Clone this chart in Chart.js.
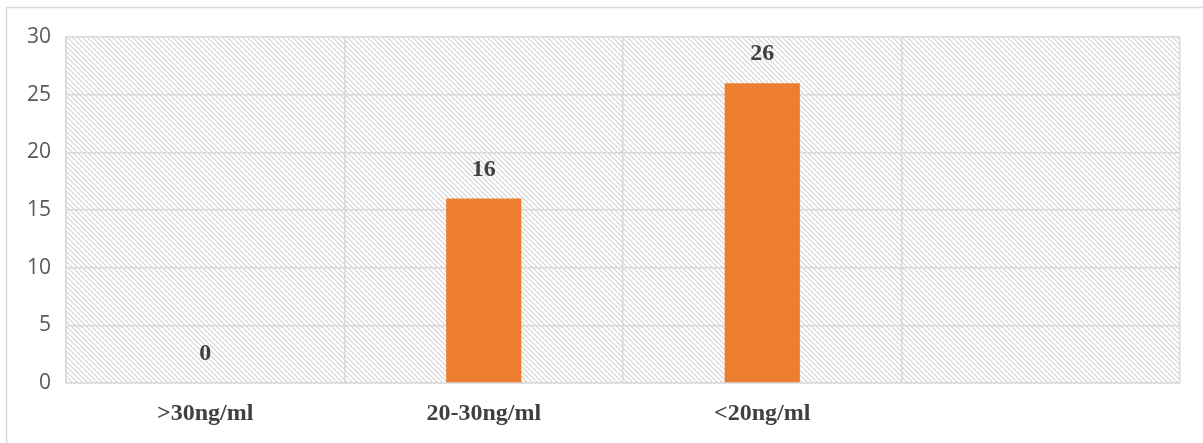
<!DOCTYPE html>
<html>
<head>
<meta charset="utf-8">
<script src="https://cdn.jsdelivr.net/npm/chart.js@4"></script>
<style>
  body { margin: 0; background: #fff; }
</style>
</head>
<body>
<canvas id="chart" width="1203" height="443"></canvas>
<script>
let categories = ['>30ng/ml', '20-30ng/ml', '<20ng/ml', ''];
let counts = [0, 16, 26, null];
let yMin = 0;
let yMax = 30;
let yStep = 5;

// diagonal hatch for plot background
function hatch() {
  let c = document.createElement('canvas');
  c.width = 5;
  c.height = 5;
  let x = c.getContext('2d');
  x.strokeStyle = '#d2d2d2';
  x.lineWidth = 1.1;
  x.beginPath();
  x.moveTo(-1, -1); x.lineTo(6, 6);
  x.moveTo(-1, 4); x.lineTo(1, 6);
  x.moveTo(4, -1); x.lineTo(6, 1);
  x.stroke();
  return x.createPattern(c, 'repeat');
}

let bgPlugin = {
  id: 'bg',
  beforeDraw(chart) {
    let ctx = chart.ctx;
    let a = chart.chartArea;
    ctx.save();
    ctx.fillStyle = hatch();
    ctx.fillRect(a.left, a.top, a.right - a.left, a.bottom - a.top);
    // outer chart frame
    ctx.strokeStyle = '#d9d9d9';
    ctx.lineWidth = 1.5;
    ctx.beginPath();
    ctx.moveTo(6.5, 443);
    ctx.lineTo(6.5, 7.5);
    ctx.lineTo(1203, 7.5);
    ctx.stroke();
    ctx.restore();
  }
};

let labelPlugin = {
  id: 'labels',
  afterDatasetsDraw(chart) {
    let ctx = chart.ctx;
    let meta = chart.getDatasetMeta(0);
    ctx.save();
    ctx.font = 'bold 24px "Liberation Serif", "Times New Roman", serif';
    ctx.fillStyle = '#404040';
    ctx.textAlign = 'center';
    ctx.textBaseline = 'middle';
    meta.data.forEach((bar, i) => {
      let v = counts[i];
      if (v == null) return;
      ctx.fillText(String(v), bar.x, bar.y - 29);
    });
    ctx.restore();
  }
};

let ctx = document.getElementById('chart').getContext('2d');
let chart = new Chart(ctx, {
  type: 'bar',
  data: {
    labels: categories,
    datasets: [{
      data: counts,
      backgroundColor: '#ED7D31',
      categoryPercentage: 1,
      barPercentage: 0.27
    }]
  },
  options: {
    responsive: false,
    animation: false,
    layout: { padding: { top: 37, right: 23, left: 0, bottom: 0 } },
    plugins: {
      legend: { display: false },
      tooltip: { enabled: false }
    },
    scales: {
      x: {
        offset: true,
        grid: { offset: true, color: '#d9d9d9', lineWidth: 1.5, drawTicks: false },
        border: { color: '#d9d9d9', width: 1.5 },
        ticks: {
          color: '#404040',
          padding: 16,
          font: { family: '"Liberation Serif", "Times New Roman", serif', size: 24, weight: 'bold' }
        },
        afterFit(s) { s.height = 60; }
      },
      y: {
        min: yMin,
        max: yMax,
        grid: { color: '#d9d9d9', lineWidth: 1.5, drawTicks: false },
        border: { color: '#d9d9d9', width: 1.5 },
        ticks: {
          stepSize: yStep,
          color: '#595959',
          padding: 15,
          font: { family: '"Open Sans", sans-serif', size: 21 }
        },
        afterFit(s) { s.width = 66; }
      }
    }
  },
  plugins: [bgPlugin, labelPlugin]
});
</script>
</body>
</html>
